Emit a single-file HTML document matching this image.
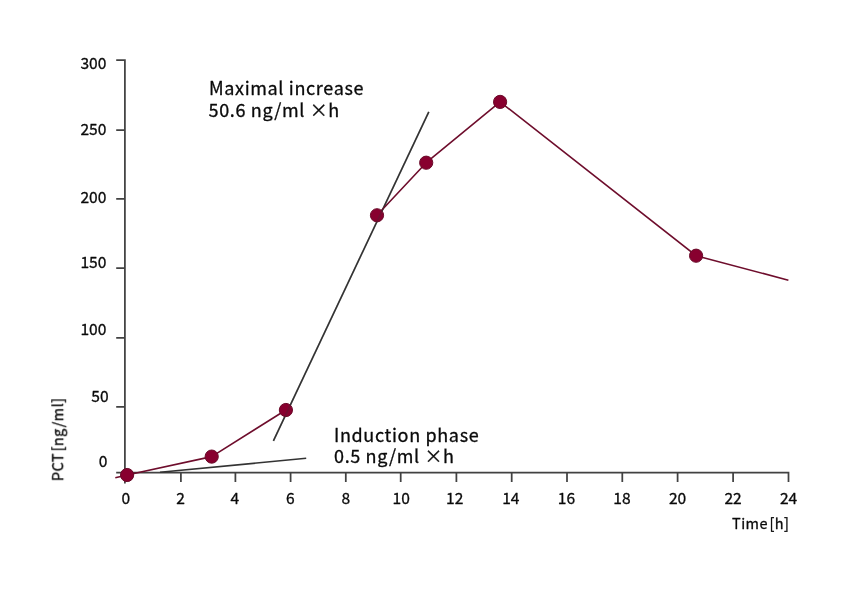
<!DOCTYPE html>
<html lang="en">
<head>
<meta charset="utf-8">
<title>PCT kinetics</title>
<style>
  html, body { margin: 0; padding: 0; background: #ffffff; }
  body { width: 842px; height: 596px; overflow: hidden; position: relative; }
  svg { position: absolute; left: 0; top: 0; display: block; }
  .txt { opacity: 0.999; }
  text { font-family: "Noto Sans CJK JP", "Liberation Sans", sans-serif; fill: #0a0a0a; stroke: #0a0a0a; stroke-width: 0.3px; stroke-linejoin: round; }
  .tick { font-size: 15.6px; }
  .lbl { font-size: 18px; letter-spacing: 0.65px; }
  .axl { font-size: 14.5px; letter-spacing: 0.45px; word-spacing: -2.2px; }
  .ax { stroke: #424242; stroke-width: 1.75; fill: none; }
  .ref { stroke: #333333; stroke-width: 1.6; fill: none; stroke-linecap: butt; }
  .ser { stroke: #6e0d2c; stroke-width: 1.6; fill: none; stroke-linejoin: round; }
  .pt { fill: #88002f; stroke: #6a0a29; stroke-width: 1; }
</style>
</head>
<body>
<svg width="842" height="596" viewBox="0 0 842 596">
  <rect x="0" y="0" width="842" height="596" fill="#ffffff"/>

  <!-- axes -->
  <path class="ax" d="M116.2 60 H124.9 V483.6"/>
  <path class="ax" d="M116.2 472.7 H788.5 V482"/>
  <!-- y ticks -->
  <path class="ax" d="M116.2 130.1 H124.9 M116.2 198.8 H124.9 M116.2 268 H124.9 M116.2 337.8 H124.9 M116.2 406.9 H124.9"/>
  <!-- x ticks -->
  <path class="ax" d="M180.9 472.7 V482 M235.4 472.7 V482 M290.6 472.7 V482 M345.8 472.7 V482 M400.7 472.7 V482 M456.4 472.7 V482 M511.7 472.7 V482 M567 472.7 V482 M622.3 472.7 V482 M677.6 472.7 V482 M733.1 472.7 V482"/>

  <!-- reference lines -->
  <path class="ref" d="M273.4 440.9 L428.8 111.8"/>
  <path class="ref" d="M160 472.3 L306.2 458.3"/>

  <!-- series -->
  <path class="ser" d="M115.3 477.8 L127.1 475 L211.7 456.6 L285.9 410"/>
  <path class="ser" d="M377 215.3 L426.2 162.7 L500.1 101.9 L696.1 255.7 L788.4 280.2"/>

  <!-- points -->
  <circle class="pt" cx="127.1" cy="475" r="6.6"/>
  <circle class="pt" cx="211.7" cy="456.6" r="6.6"/>
  <circle class="pt" cx="285.9" cy="410" r="6.6"/>
  <circle class="pt" cx="377" cy="215.3" r="6.6"/>
  <circle class="pt" cx="426.2" cy="162.7" r="6.6"/>
  <circle class="pt" cx="500.1" cy="101.9" r="6.6"/>
  <circle class="pt" cx="696.1" cy="255.7" r="6.6"/>

  <path class="ref" d="M273.4 440.9 L428.8 111.8" opacity="0.28"/>

  <g class="txt">
  <!-- y tick labels -->
  <text class="tick" x="106.4" y="69.1" text-anchor="end">300</text>
  <text class="tick" x="106.4" y="135.2" text-anchor="end">250</text>
  <text class="tick" x="106.4" y="202.5" text-anchor="end">200</text>
  <text class="tick" x="106.4" y="267.7" text-anchor="end">150</text>
  <text class="tick" x="106.4" y="334.7" text-anchor="end">100</text>
  <text class="tick" x="108.6" y="401.5" text-anchor="end">50</text>
  <text class="tick" x="107.5" y="466.9" text-anchor="end">0</text>

  <!-- x tick labels -->
  <text class="tick" x="125.8" y="503.9" text-anchor="middle">0</text>
  <text class="tick" x="180.5" y="503.9" text-anchor="middle">2</text>
  <text class="tick" x="234.8" y="503.9" text-anchor="middle">4</text>
  <text class="tick" x="290.4" y="503.9" text-anchor="middle">6</text>
  <text class="tick" x="345.8" y="503.9" text-anchor="middle">8</text>
  <text class="tick" x="401.2" y="503.9" text-anchor="middle">10</text>
  <text class="tick" x="454.7" y="503.9" text-anchor="middle">12</text>
  <text class="tick" x="510.8" y="503.9" text-anchor="middle">14</text>
  <text class="tick" x="566.4" y="503.9" text-anchor="middle">16</text>
  <text class="tick" x="621.9" y="503.9" text-anchor="middle">18</text>
  <text class="tick" x="677.6" y="503.9" text-anchor="middle">20</text>
  <text class="tick" x="733.1" y="503.9" text-anchor="middle">22</text>
  <text class="tick" x="788.6" y="503.9" text-anchor="middle">24</text>

  <!-- axis titles -->
  <text class="axl" x="789.4" y="528.5" text-anchor="end">Time [h]</text>
  <text class="axl" transform="translate(63.2 481.2) rotate(-90)">PCT [ng/ml]</text>

  <!-- annotations -->
  <text class="lbl" x="209" y="95">Maximal increase</text>
  <text class="lbl" x="208.6" y="117">50.6 ng/ml ×h</text>
  <text class="lbl" x="334" y="441.7">Induction phase</text>
  <text class="lbl" x="334" y="462.5">0.5 ng/ml ×h</text>
  </g>
</svg>
</body>
</html>
